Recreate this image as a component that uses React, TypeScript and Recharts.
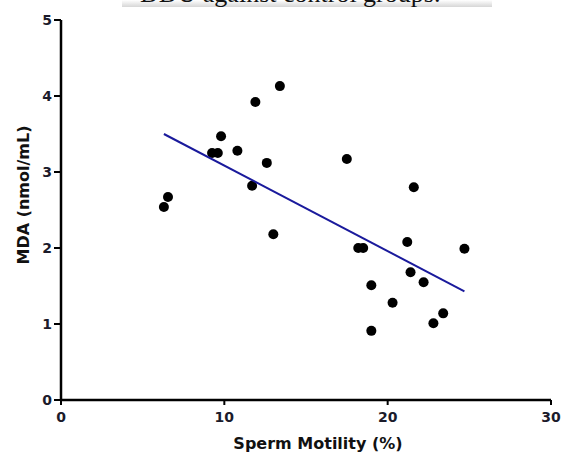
import React from 'react';
import { ScatterChart, Scatter, XAxis, YAxis } from 'recharts';

// sperm motility (%) vs MDA (nmol/mL)
const motility = [6.3, 6.55, 9.25, 9.6, 9.8, 10.8, 11.9, 13.4, 12.6, 11.7, 13.0, 17.5, 21.6, 21.2, 18.2, 18.5, 24.7, 21.4, 22.2, 19.0, 20.3, 23.4, 22.8, 19.0];
const mda = [2.54, 2.67, 3.25, 3.25, 3.47, 3.28, 3.92, 4.13, 3.12, 2.82, 2.18, 3.17, 2.8, 2.08, 2.0, 2.0, 1.99, 1.68, 1.55, 1.51, 1.28, 1.14, 1.01, 0.91];

// regression line end points
const fitX = [6.3, 24.7];
const fitY = [3.5, 1.43];

const xTicks = [0, 10, 20, 30];
const yTicks = [0, 1, 2, 3, 4, 5];

const points = motility.map((x, i) => ({ x, y: mda[i] }));
const fitLine = fitX.map((x, i) => ({ x, y: fitY[i] }));

const font = 'DejaVu Sans, Verdana, sans-serif';

const tickStyle = {
  fontFamily: font,
  fontSize: 14,
  fontWeight: 700,
  fill: '#1b1b2b',
};

const YLabel = (props: any) => {
  const { viewBox } = props;
  const cx = 23;
  const cy = viewBox.y + viewBox.height / 2 - 15;
  return (
    <text
      x={cx}
      y={cy}
      transform={`rotate(-90, ${cx}, ${cy})`}
      textAnchor="middle"
      dominantBaseline="central"
      style={{ fontFamily: font, fontSize: 16, fontWeight: 700, fill: '#111' }}
    >
      MDA (nmol/mL)
    </text>
  );
};

const XLabel = (props: any) => {
  const { viewBox } = props;
  return (
    <text
      x={viewBox.x + viewBox.width / 2 + 12}
      y={443}
      textAnchor="middle"
      dominantBaseline="central"
      style={{ fontFamily: font, fontSize: 16, fontWeight: 700, fill: '#111' }}
    >
      Sperm Motility (%)
    </text>
  );
};

const Dot = (props: any) => <circle cx={props.cx} cy={props.cy} r={5} fill="#000" />;
const NoDot = () => <g />;

export default function App() {
  return (
    <div style={{ position: 'absolute', left: 0, top: 0, width: 572, height: 454, background: '#fff' }}>
      <div
        style={{
          position: 'absolute',
          left: 122,
          top: 0,
          width: 370,
          height: 7,
          overflow: 'hidden',
          background: 'linear-gradient(#fff, #d6d6d6)',
        }}
      >
        <div
          style={{
            position: 'absolute',
            left: 18,
            top: -21,
            fontFamily: 'Liberation Serif, serif',
            fontSize: 26,
            whiteSpace: 'nowrap',
            color: '#111',
          }}
        >
          DDU against control groups.
        </div>
      </div>
      <ScatterChart width={572} height={454} margin={{ top: 20, right: 21, bottom: 0, left: 0 }}>
        <XAxis
          type="number"
          dataKey="x"
          domain={[0, 30]}
          ticks={xTicks}
          height={54}
          tick={tickStyle}
          tickSize={5}
          tickMargin={7}
          axisLine={{ stroke: '#000', strokeWidth: 2.5 }}
          tickLine={{ stroke: '#000', strokeWidth: 2 }}
          label={<XLabel />}
        />
        <YAxis
          type="number"
          dataKey="y"
          domain={[0, 5]}
          ticks={yTicks}
          width={61}
          tick={tickStyle}
          tickSize={7}
          tickMargin={2}
          axisLine={{ stroke: '#000', strokeWidth: 2.5 }}
          tickLine={{ stroke: '#000', strokeWidth: 2 }}
          label={<YLabel />}
        />
        <Scatter data={points} shape={<Dot />} isAnimationActive={false} />
        <Scatter
          data={fitLine}
          line={{ stroke: '#1a1a9c', strokeWidth: 2 }}
          lineType="joint"
          shape={<NoDot />}
          isAnimationActive={false}
        />
      </ScatterChart>
    </div>
  );
}
